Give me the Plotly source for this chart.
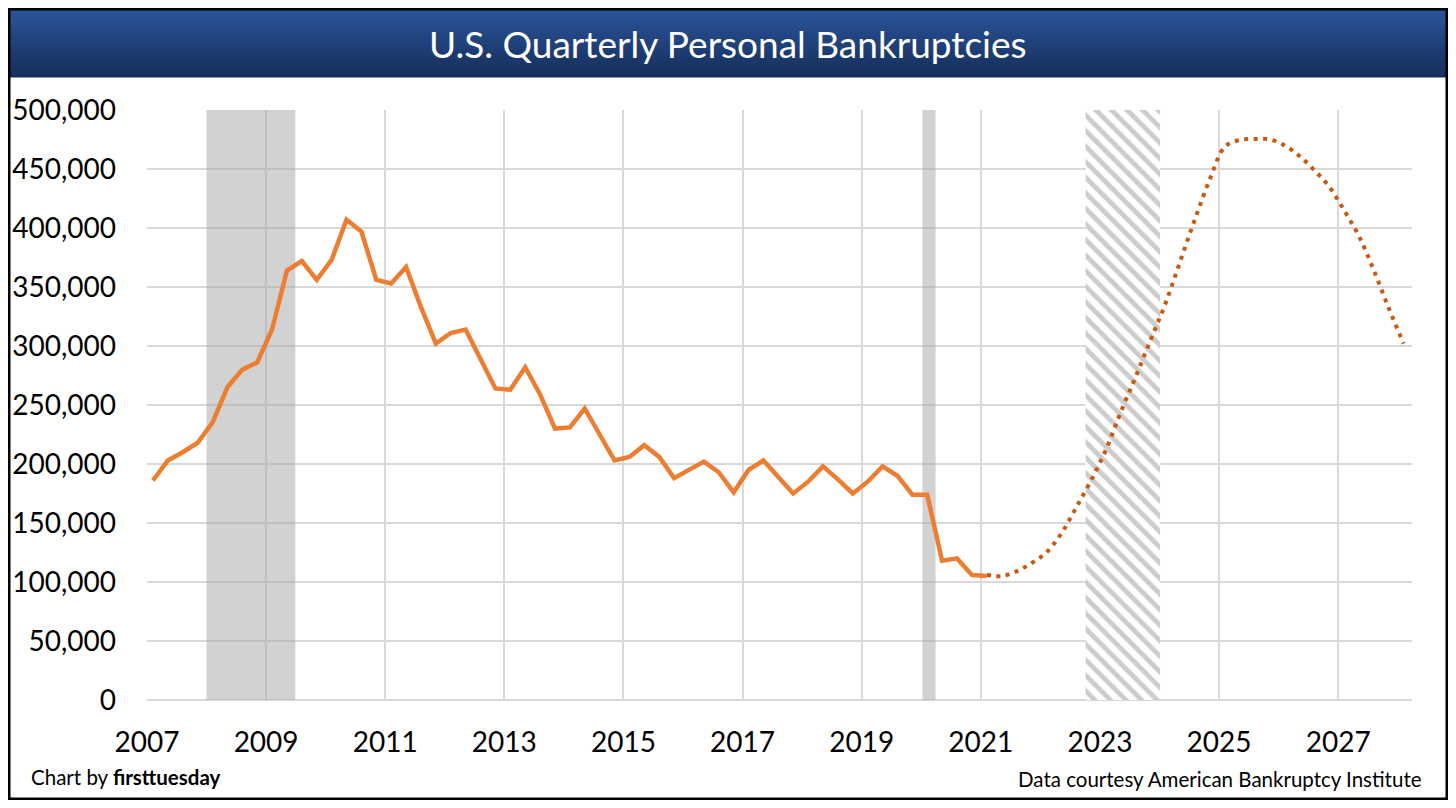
import plotly.graph_objects as go

# quarterly personal bankruptcy filings, 2007 Q1 - 2021 Q1 (thousands)
actual_k = [186, 203, 210, 218, 235, 265, 280, 286, 314, 364,
            372, 356, 373, 407, 397, 356, 353, 367, 333, 302,
            311, 314, 289, 264, 263, 282, 259, 230, 231, 247,
            225, 203, 206, 216, 206, 188, 195, 202, 193, 176,
            195, 203, 189, 175, 185, 198, 187, 175, 185, 198,
            190, 174, 174, 118, 120, 106, 105]

# projection, 2021 Q1 - 2028 Q1 (thousands)
forecast_k = [106, 105, 109, 116, 125, 141, 163, 186, 212, 244,
              274, 305, 336, 372, 408, 442, 469, 474.6, 475.4, 475,
              470, 461, 449, 435, 415, 393, 364, 332, 302]

# recessions (decimal years) and the forecast recession window
recession_start = [2008.0, 2020.02]
recession_end = [2009.49, 2020.24]
forecast_rec_start = 2022.76
forecast_rec_end = 2024.01

year_ticks = list(range(2007, 2028, 2))
value_ticks = list(range(0, 500001, 50000))

actual_x = [2007.1 + 0.25 * i for i in range(len(actual_k))]
forecast_x = [actual_x[-1] + 0.25 * i for i in range(len(forecast_k))]

FONT = "Lato"
# page has an 8px body margin, so the figure is a bit smaller than the window
W, H = 1440, 792
L, R, T, B = 139, 36, 102, 100
pw, ph = W - L - R, H - T - B


# helpers take positions measured on the page (window) in pixels
def px_x(p):
    return (p - 8 - L) / pw


def px_y(p):
    return (H - B - (p - 8)) / ph


fig = go.Figure()

# hatched forecast recession (opaque, above grid)
fig.add_trace(go.Scatter(
    x=[forecast_rec_start, forecast_rec_end, forecast_rec_end, forecast_rec_start, forecast_rec_start],
    y=[0, 0, 500000, 500000, 0],
    mode="lines", fill="toself", fillcolor="white",
    fillpattern=dict(shape="\\", fgcolor="#9a9a9a", bgcolor="white", size=11, solidity=0.45),
    line=dict(width=0), hoverinfo="skip", showlegend=False,
))

fig.add_trace(go.Scatter(
    x=actual_x, y=[v * 1000 for v in actual_k],
    mode="lines", line=dict(color="#ED7D31", width=4.5),
    showlegend=False,
))

fig.add_trace(go.Scatter(
    x=forecast_x, y=[v * 1000 for v in forecast_k],
    mode="lines", line=dict(color="#C55A11", width=4, dash="4px,5.5px", shape="spline"),
    showlegend=False,
))

shapes = []
for s, e in zip(recession_start, recession_end):
    shapes.append(dict(type="rect", xref="x", yref="y", x0=s, x1=e, y0=0, y1=500000,
                       fillcolor="rgba(166,166,166,0.5)", line=dict(width=0), layer="between"))

# gradient title banner
top_c, bot_c = (42, 85, 155), (22, 46, 92)
band_top, band_bot = 8, 77
n = 23
step = (band_bot - band_top) / n
for i in range(n):
    f = i / (n - 1)
    c = tuple(int(round(top_c[k] + (bot_c[k] - top_c[k]) * f)) for k in range(3))
    shapes.append(dict(type="rect", xref="paper", yref="paper",
                       x0=px_x(8), x1=px_x(1448),
                       y0=px_y(band_top + step * (i + 1) + 0.5), y1=px_y(band_top + step * i),
                       fillcolor="rgb(%d,%d,%d)" % c, line=dict(width=0), layer="above"))

# outer border
shapes.append(dict(type="rect", xref="paper", yref="paper",
                   x0=px_x(9.25), x1=px_x(1446.75), y0=px_y(798.75), y1=px_y(9.25),
                   line=dict(color="black", width=2.5), fillcolor="rgba(0,0,0,0)", layer="above"))

annotations = [
    dict(text="U.S. Quarterly Personal Bankruptcies", xref="paper", yref="paper",
         x=px_x(728), y=px_y(44), xanchor="center", yanchor="middle", showarrow=False,
         font=dict(family=FONT, size=37, color="white")),
    dict(text="Chart by <b>firsttuesday</b>", xref="paper", yref="paper",
         x=px_x(29), y=px_y(777), xanchor="left", yanchor="middle", showarrow=False,
         font=dict(family=FONT, size=20.5, color="black")),
    dict(text="Data courtesy American Bankruptcy Institute", xref="paper", yref="paper",
         x=px_x(1424), y=px_y(779), xanchor="right", yanchor="middle", showarrow=False,
         font=dict(family=FONT, size=20.5, color="black")),
]

fig.update_layout(
    width=W, height=H,
    margin=dict(l=L, r=R, t=T, b=B),
    paper_bgcolor="white", plot_bgcolor="white",
    font=dict(family=FONT, color="black"),
    shapes=shapes, annotations=annotations,
    showlegend=False,
)

fig.update_xaxes(
    range=[2007, 2028.24], tickvals=year_ticks, ticktext=[str(y) for y in year_ticks],
    showgrid=True, gridcolor="#d9d9d9", gridwidth=1.5, zeroline=False, automargin=False,
    ticks="", tickfont=dict(size=28, family=FONT, color="black"), ticklabelstandoff=23,
)
fig.update_yaxes(
    range=[0, 500000], tickvals=value_ticks, tickformat=",", automargin=False,
    showgrid=True, gridcolor="#d9d9d9", gridwidth=1.5,
    zeroline=True, zerolinecolor="#d9d9d9", zerolinewidth=1.5,
    ticks="", tickfont=dict(size=28, family=FONT, color="black"), ticklabelstandoff=30,
)

fig.write_html("out.html")
